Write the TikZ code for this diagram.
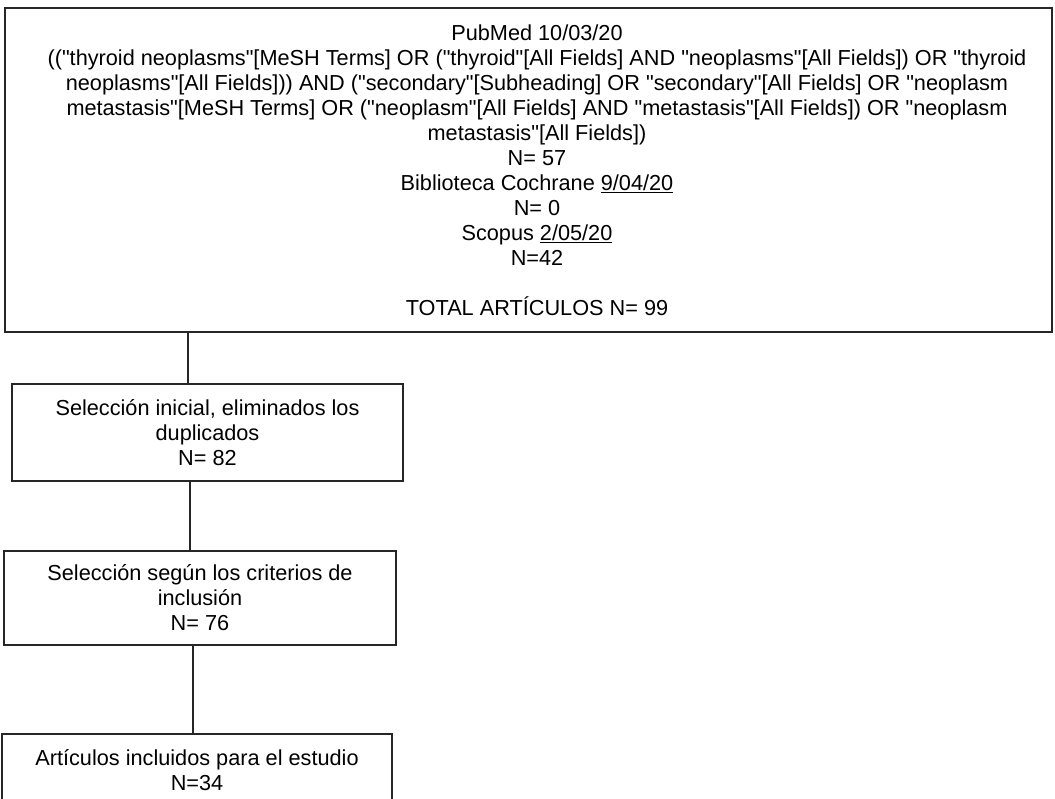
\documentclass[tikz,border=0pt]{standalone}
\usepackage{fontspec}
\setmainfont{Liberation Sans}[Ligatures=TeXOff]
\begin{document}
\begin{tikzpicture}[x=1pt,y=-1pt,
  txt/.style={align=center, inner sep=0pt, font=\fontsize{21.7}{25}\selectfont},
  box/.style={txt, draw=black!85, line width=1.3pt},
  link/.style={draw=black!85, line width=1.3pt}]
\useasboundingbox (0,0) rectangle (1055,799);
\clip (0,0) rectangle (1055,799);
\node[draw=black!85, line width=2.4pt, minimum width=1047pt, minimum height=324pt, inner sep=0pt] (top) at (528.5,170) {};
\node[txt, anchor=north] (toptext) at (537,25) {%
PubMed 10/03/20\\
(("thyroid neoplasms"[MeSH Terms] OR ("thyroid"[All Fields] AND "neoplasms"[All Fields]) OR "thyroid\\
neoplasms"[All Fields])) AND ("secondary"[Subheading] OR "secondary"[All Fields] OR "neoplasm\\
metastasis"[MeSH Terms] OR ("neoplasm"[All Fields] AND "metastasis"[All Fields]) OR "neoplasm\\
metastasis"[All Fields])\\
N= 57\\
Biblioteca Cochrane \underline{9/04/20}\\
N= 0\\
Scopus \underline{2/05/20}\\
N=42\\
\mbox{}\\
TOTAL ARTÍCULOS N= 99};
\node[box, minimum width=391pt, minimum height=97pt] (b2) at (207.5,432.5) {Selección inicial, eliminados los\\duplicados\\N= 82};
\node[box, minimum width=392pt, minimum height=94pt] (b3) at (200,598) {Selección según los criterios de\\inclusión\\N= 76};
\node[box, minimum width=390pt, minimum height=72pt] (b4) at (197,770) {Artículos incluidos para el estudio\\N=34};
\draw[link] (top.south -| 188,0) -- (b2.north -| 188,0);
\draw[link] (b2.south -| 190,0) -- (b3.north -| 190,0);
\draw[link] (b3.south -| 193,0) -- (b4.north -| 193,0);
\end{tikzpicture}
\end{document}
